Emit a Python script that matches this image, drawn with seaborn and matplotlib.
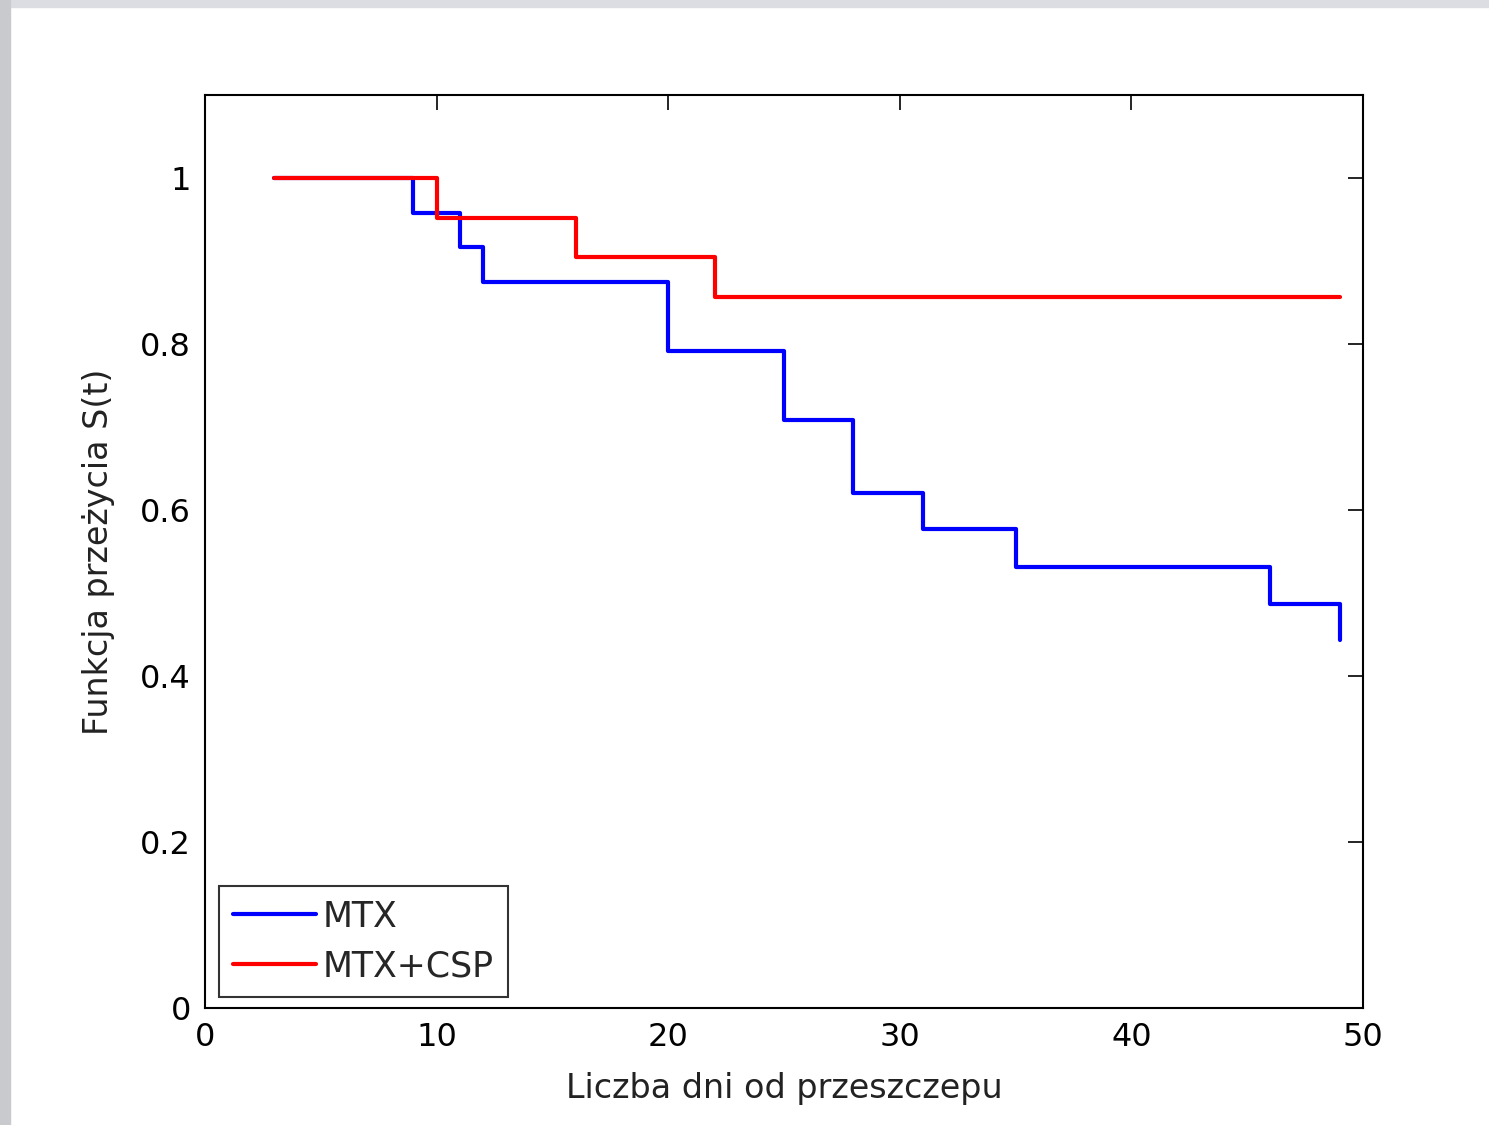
import numpy as np
import pandas as pd
import matplotlib
matplotlib.use("Agg")
import matplotlib.pyplot as plt
import seaborn as sns
from matplotlib.patches import Rectangle
from matplotlib.lines import Line2D

# Kaplan-Meier steps
mtx_days = [3, 9, 11, 12, 20, 25, 28, 31, 35, 46, 49]
mtx_surv = [1.0, 0.958, 0.917, 0.875, 0.792, 0.708, 0.621, 0.577, 0.531, 0.487, 0.443]
csp_days = [3, 10, 16, 22, 49]
csp_surv = [1.0, 0.952, 0.905, 0.857, 0.857]

x_ticks = [0, 10, 20, 30, 40, 50]
y_ticks = [0, 0.2, 0.4, 0.6, 0.8, 1.0]
y_tick_labels = ["0", "0.2", "0.4", "0.6", "0.8", "1"]

sns.set_style("white")
plt.rcParams['font.family'] = ['DejaVu Sans']

fig = plt.figure(figsize=(14.89, 11.25), dpi=100)
fig.patch.set_facecolor("white")
# screenshot frame (grey edges top/left)
fig.patches.append(Rectangle((0, 1 - 7 / 1125), 1, 7 / 1125, transform=fig.transFigure,
                             color="#dcdde2", zorder=0))
fig.patches.append(Rectangle((0, 0), 10 / 1489, 1, transform=fig.transFigure,
                             color="#c9cace", zorder=0))

ax = fig.add_axes([205 / 1489, 1 - 1008 / 1125, (1363 - 205) / 1489, (1008 - 95) / 1125])

df_mtx = pd.DataFrame({"t": mtx_days, "s": mtx_surv})
df_csp = pd.DataFrame({"t": csp_days, "s": csp_surv})
sns.lineplot(data=df_mtx, x="t", y="s", ax=ax, color="#0000ff", lw=3.0,
             drawstyle="steps-post", estimator=None, sort=False)
sns.lineplot(data=df_csp, x="t", y="s", ax=ax, color="#ff0000", lw=3.0,
             drawstyle="steps-post", estimator=None, sort=False)

ax.set_xlim(0, 50)
ax.set_ylim(0, 1.1)
ax.set_xticks(x_ticks)
ax.set_yticks(y_ticks)
ax.set_yticklabels(y_tick_labels)
ax.tick_params(direction="in", length=11, width=1.2, top=True, right=True,
               labelsize=23, pad=10, colors="black")
for sp in ax.spines.values():
    sp.set_color("black")
    sp.set_linewidth(1.5)

ax.set_xlabel("Liczba dni od przeszczepu", fontsize=24, labelpad=14, color="#222222")
ax.set_ylabel("Funkcja przeżycia S(t)", fontsize=24, labelpad=18, color="#222222")

handles = [Line2D([], [], color="#0000ff", lw=3), Line2D([], [], color="#ff0000", lw=3)]
leg = ax.legend(handles, ["MTX", "MTX+CSP"], loc="lower left",
                bbox_to_anchor=(0.012, 0.012), fontsize=25, frameon=True,
                fancybox=False, handlelength=2.4, handletextpad=0.2,
                labelspacing=0.45, borderpad=0.4, borderaxespad=0)
leg.get_frame().set_edgecolor("black")
leg.get_frame().set_linewidth(1.5)

fig.savefig("out.png", dpi=100)
